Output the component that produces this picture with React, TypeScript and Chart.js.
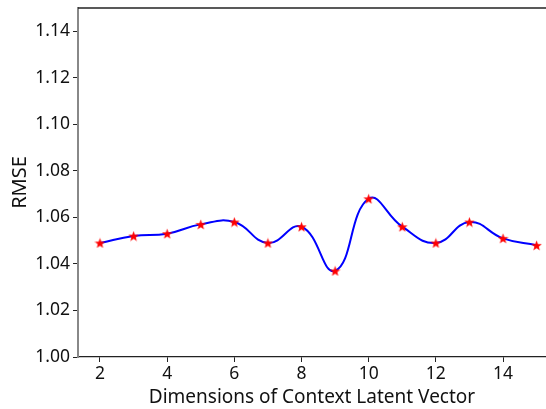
import React, { useEffect, useRef } from "react";
import { Chart, registerables } from "chart.js";

Chart.register(...registerables);

const dimensions = [2, 3, 4, 5, 6, 7, 8, 9, 10, 11, 12, 13, 14, 15];
const rmse = [1.049, 1.052, 1.053, 1.057, 1.058, 1.049, 1.056, 1.037, 1.068, 1.056, 1.049, 1.058, 1.051, 1.048];
const yTicks = [1.0, 1.02, 1.04, 1.06, 1.08, 1.1, 1.12, 1.14];
const xTicks = [2, 4, 6, 8, 10, 12, 14];
const xLabel = "Dimensions of Context Latent Vector";
const yLabel = "RMSE";

function makeStar(size: number, color: string): HTMLCanvasElement {
  const c = document.createElement("canvas");
  c.width = size;
  c.height = size;
  const ctx = c.getContext("2d")!;
  const cx = size / 2;
  const cy = size / 2 + 0.5;
  const R = size / 2;
  const r = R * 0.42;
  ctx.beginPath();
  for (let i = 0; i < 10; i++) {
    const rad = i % 2 === 0 ? R : r;
    const a = -Math.PI / 2 + (i * Math.PI) / 5;
    const x = cx + rad * Math.cos(a);
    const y = cy + rad * Math.sin(a);
    if (i === 0) ctx.moveTo(x, y);
    else ctx.lineTo(x, y);
  }
  ctx.closePath();
  ctx.fillStyle = color;
  ctx.fill();
  return c;
}

const FONT = "'Noto Sans', 'DejaVu Sans', sans-serif";

export default function App() {
  const ref = useRef<HTMLCanvasElement | null>(null);
  useEffect(() => {
    document.body.style.margin = "0";
    const star = makeStar(11, "#ff0000");
    const topSpine = {
      id: "topSpine",
      afterDraw(chart: any) {
        const { ctx, chartArea } = chart;
        ctx.save();
        ctx.strokeStyle = "#222";
        ctx.lineWidth = 1.3;
        ctx.beginPath();
        ctx.moveTo(chartArea.left, chartArea.top);
        ctx.lineTo(chartArea.right, chartArea.top);
        ctx.stroke();
        ctx.restore();
      },
    };
    const chart = new Chart(ref.current!, {
      type: "line",
      data: {
        datasets: [
          {
            data: dimensions.map((d, i) => ({ x: d, y: rmse[i] })),
            borderColor: "#0000ff",
            borderWidth: 2,
            tension: 0.45,
            pointStyle: star as any,
            pointRadius: 5,
            pointBackgroundColor: "#ff0000",
            pointBorderColor: "#ff0000",
            fill: false,
          },
        ],
      },
      options: {
        animation: false,
        responsive: false,
        maintainAspectRatio: false,
        layout: { autoPadding: false, padding: { top: 8, right: 0, left: 0, bottom: 0 } },
        plugins: { legend: { display: false }, tooltip: { enabled: false } },
        scales: {
          x: {
            type: "linear",
            min: 1.345,
            max: 15.28,
            afterBuildTicks: (s: any) => {
              s.ticks = xTicks.map((v) => ({ value: v }));
            },
            afterFit: (s: any) => {
              s.height = 52;
              s.paddingLeft = 0;
              s.paddingRight = 0;
            },
            ticks: {
              font: { family: FONT, size: 17.5 },
              color: "#111",
              padding: 2,
              maxRotation: 0,
              autoSkip: false,
            },
            grid: { drawOnChartArea: false, color: "#222", tickLength: 5 },
            border: { color: "#222", width: 1.3 },
            title: {
              display: true,
              text: xLabel,
              font: { family: FONT, size: 19 },
              color: "#111",
              padding: { top: 0, bottom: 0 },
            },
          },
          y: {
            type: "linear",
            min: 1.0,
            max: 1.15,
            afterBuildTicks: (s: any) => {
              s.ticks = yTicks.map((v) => ({ value: v }));
            },
            afterFit: (s: any) => {
              s.width = 78;
              s.paddingTop = 0;
              s.paddingBottom = 0;
            },
            ticks: {
              font: { family: FONT, size: 17.5 },
              color: "#111",
              padding: 3,
              callback: (v: any) => Number(v).toFixed(2),
            },
            grid: { drawOnChartArea: false, color: "#222", tickLength: 5 },
            border: { color: "#888", width: 2 },
            title: {
              display: true,
              text: yLabel,
              font: { family: FONT, size: 20 },
              color: "#111",
              padding: { top: 8, bottom: 0 },
            },
          },
        },
      },
      plugins: [topSpine],
    });
    return () => chart.destroy();
  }, []);
  return (
    <div style={{ width: 546, height: 409 }}>
      <canvas ref={ref} width={546} height={409} style={{ display: "block" }} />
    </div>
  );
}
